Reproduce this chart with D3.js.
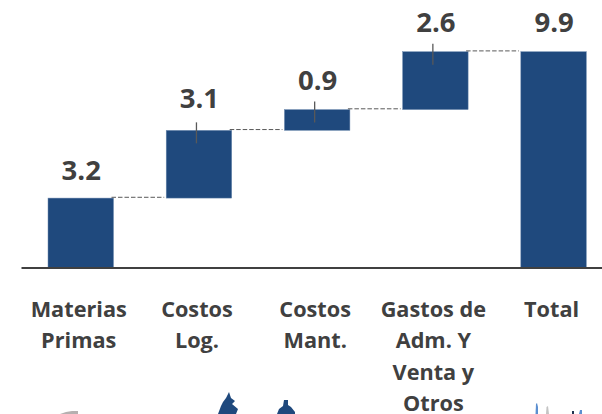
<!DOCTYPE html>
<html><head><meta charset="utf-8">
<style>html,body{margin:0;padding:0;background:#fff}svg{display:block}text{font-family:"Open Sans",Lato,sans-serif;font-weight:700;fill:#404040}</style>
<script src="https://cdn.jsdelivr.net/npm/d3@7"></script></head><body>
<svg id="c" width="602" height="414"></svg>
<script>
const categories=["Materias Primas","Costos Log.","Costos Mant.","Gastos de Adm. Y Venta y Otros","Total"];
const categoryLines=[["Materias","Primas"],["Costos","Log."],["Costos","Mant."],["Gastos de","Adm. Y","Venta y","Otros"],["Total"]];
const values=[3.2,3.1,0.95,2.65,9.9];
const labels=["3.2","3.1","0.9","2.6","9.9"];
const isTotal=[false,false,false,false,true];
const tickShown=[false,true,true,true,false];
const blue="#1f497d",ink="#404040";
const W=602,H=414,baseY=268,topY=51.7;
const labelLift=[18,22,20,20,20];
const svg=d3.select("#c");
const x=d3.scaleBand().domain(categories).range([24.36,609.96]).paddingInner(0.4459).paddingOuter(0.2);
const y=d3.scaleLinear().domain([0,9.9]).range([baseY,topY]);
let run=0;
const rows=categories.map((c,i)=>{
  const start=isTotal[i]?0:run, end=isTotal[i]?values[i]:run+values[i];
  run=isTotal[i]?run:end;
  return {c,i,start,end,label:labels[i],lines:categoryLines[i],tick:tickShown[i]};
});
svg.selectAll("rect.bar").data(rows).join("rect").attr("class","bar")
  .attr("x",d=>x(d.c)).attr("width",x.bandwidth())
  .attr("y",d=>y(d.end)).attr("height",d=>y(d.start)-y(d.end))
  .attr("fill",blue).attr("stroke","#6f8bb0").attr("stroke-width",0.5);
svg.selectAll("line.conn").data(rows.slice(0,-1)).join("line").attr("class","conn")
  .attr("x1",d=>x(d.c)+x.bandwidth()-2).attr("x2",d=>x(categories[d.i+1])-2)
  .attr("y1",d=>y(d.end)-0.8).attr("y2",d=>y(d.end)-0.8)
  .attr("stroke","#595959").attr("stroke-width",1).attr("stroke-dasharray","4.5 2");
svg.selectAll("line.tick").data(rows.filter(d=>d.tick)).join("line").attr("class","tick")
  .attr("x1",d=>x(d.c)+x.bandwidth()/2-2.5).attr("x2",d=>x(d.c)+x.bandwidth()/2-2.5)
  .attr("y1",d=>y(d.end)-8).attr("y2",d=>y(d.end)+Math.min(13,(y(d.start)-y(d.end))*0.65))
  .attr("stroke","#595959").attr("stroke-width",1.3);
svg.append("line").attr("x1",21.5).attr("x2",W).attr("y1",baseY).attr("y2",baseY).attr("stroke",ink).attr("stroke-width",2);
svg.selectAll("text.val").data(rows).join("text").attr("class","val")
  .attr("x",d=>x(d.c)+x.bandwidth()/2+0.5).attr("y",d=>y(d.end)-labelLift[d.i])
  .attr("text-anchor","middle").attr("font-size",27.5).text(d=>d.label);
const cat=svg.selectAll("text.cat").data(rows).join("text").attr("class","cat")
  .attr("text-anchor","middle").attr("font-size",21.7);
cat.selectAll("tspan").data(d=>d.lines.map(t=>({t,d}))).join("tspan")
  .attr("x",o=>x(o.d.c)+x.bandwidth()/2-2).attr("y",(o,i)=>316.5+i*31.5).text(o=>o.t);
const decor=[
 {p:"M229,392 L231,398 L235,401 L232,404 L238,409 L236,414 L218,414 L221,406 L223,402 L226,398 Z",f:blue},
 {p:"M284,400 L288,400 L288,405 L291,407 L295,412 L295,414 L277,414 L279,409 L283,406 Z",f:blue},
 {p:"M60,414 L66,412 L72,411 L78,411 L78,414 Z",f:"#b5b0b0"},
 {p:"M535.5,414 L536,404 L537,403 L538,407 L538,414 Z",f:"#5b8fd0"},
 {p:"M546,414 L546.5,407 L548,406 L549,414 Z",f:"#c4c4c4"},
 {p:"M572,414 L572,411 L574,411 L574,414 Z",f:"#1f3350"},
 {p:"M579,414 L580,410 L582,410 L582,414 Z",f:"#5b8fd0"}];
svg.selectAll("path.decor").data(decor).join("path").attr("class","decor").attr("d",d=>d.p).attr("fill",d=>d.f);
</script></body></html>
